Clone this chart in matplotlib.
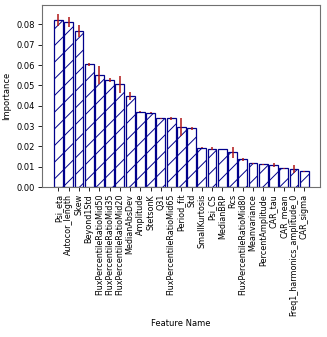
import matplotlib
matplotlib.use("Agg")
import matplotlib.pyplot as plt
import numpy as np

features = ["Psi_eta", "Autocor_length", "Skew", "Beyond1Std",
            "FluxPercentileRatioMid50", "FluxPercentileRatioMid35",
            "FluxPercentileRatioMid20", "MedianAbsDev", "Amplitude",
            "StetsonK", "Q31", "FluxPercentileRatioMid65", "Period_fit",
            "Std", "SmallKurtosis", "Psi_CS", "MedianBRP", "Rcs",
            "FluxPercentileRatioMid80", "Meanvariance", "PercentAmplitude",
            "CAR_tau", "CAR_mean", "Freq1_harmonics_amplitude_0", "CAR_sigma"]
importance = [0.0820, 0.0811, 0.0769, 0.0603, 0.0552, 0.0525, 0.0505,
              0.0446, 0.0370, 0.0366, 0.0338, 0.0338, 0.0295, 0.0289,
              0.0193, 0.0189, 0.0187, 0.0170, 0.0136, 0.0116, 0.0111,
              0.0110, 0.0093, 0.0087, 0.0077]
errors = [0.0029, 0.0025, 0.0029, 0.0008, 0.0045, 0.0010, 0.0043,
          0.0020, 0.0002, 0.0002, 0.0003, 0.0008, 0.0043, 0.0007,
          0.0003, 0.0006, 0.0002, 0.0027, 0.0008, 0.0002, 0.0002,
          0.0010, 0.0002, 0.0020, 0.0004]

plt.rcParams['hatch.linewidth'] = 0.7
fig = plt.figure(figsize=(3.27, 3.37), dpi=100)
ax = fig.add_axes([0.128, 0.445, 0.851, 0.540])
x = np.arange(len(features))
ax.bar(x, importance, width=0.86, color='white', edgecolor='#00008b',
       hatch='//', linewidth=0.9)
ax.errorbar(x, importance, yerr=errors, fmt='none', ecolor='#b01818',
            elinewidth=1.1, capsize=0)
ax.set_xlim(-1.62, 25.55)
ax.set_ylim(0, 0.0895)
ax.set_xticks(x)
ax.set_xticklabels(features, rotation=90, fontsize=5.8)
ax.set_yticks(np.arange(0, 0.081, 0.01))
ax.tick_params(axis='y', labelsize=6)
ax.tick_params(length=3, width=0.6, pad=2)
ax.set_ylabel("Importance", fontsize=6)
ax.set_xlabel("Feature Name", fontsize=6, labelpad=2)
for s in ax.spines.values():
    s.set_linewidth(0.8)
    s.set_color('#707070')
fig.savefig("out.png", dpi=100)
